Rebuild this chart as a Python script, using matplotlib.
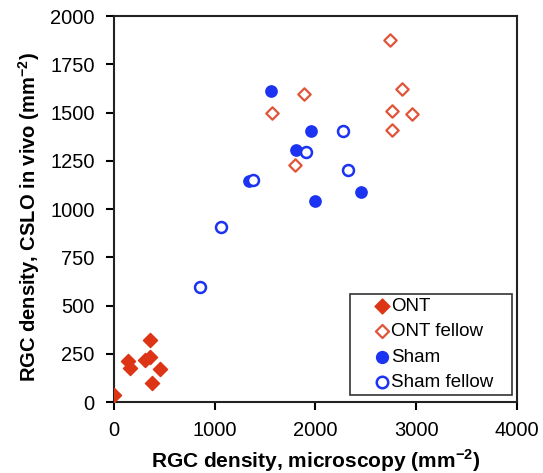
import matplotlib.pyplot as plt

plt.rcParams['font.family'] = ['Liberation Sans', 'DejaVu Sans']
plt.rcParams['mathtext.fontset'] = 'custom'
plt.rcParams['mathtext.rm'] = 'Liberation Sans'
plt.rcParams['mathtext.bf'] = 'Liberation Sans:bold'

# ONT
ont_x = [0, 142, 159, 307, 357, 357, 456, 374]
ont_y = [38, 214, 179, 219, 236, 322, 171, 98]
# ONT fellow
ontf_x = [2744, 2863, 2757, 2959, 2757, 1888, 1570, 1795]
ontf_y = [1874, 1622, 1509, 1493, 1412, 1596, 1500, 1227]
# Sham
sham_x = [1557, 1960, 1805, 1339, 1997, 2450]
sham_y = [1614, 1402, 1307, 1146, 1040, 1086]
# Sham fellow
shamf_x = [2278, 1908, 2318, 1375, 1061, 856]
shamf_y = [1403, 1298, 1202, 1152, 909, 595]

red = '#dc3414'
red_open = '#e0553a'
blue = '#1c34f2'

fig = plt.figure(figsize=(5.43, 4.73), dpi=100)
ax = fig.add_axes([0.21, 0.15, 0.742, 0.816])

ax.scatter(ont_x, ont_y, s=52, marker='D', color=red, label='ONT', zorder=3)
ax.scatter(ontf_x, ontf_y, s=40, marker='D', facecolor='white', edgecolor=red_open,
           linewidth=1.6, label='ONT fellow', zorder=3)
ax.scatter(sham_x, sham_y, s=66, marker='o', color=blue, label='Sham', zorder=3)
ax.scatter(shamf_x, shamf_y, s=62, marker='o', facecolor='white', edgecolor=blue,
           linewidth=1.8, label='Sham fellow', zorder=3)

ax.set_xlim(0, 4000)
ax.set_ylim(0, 2000)
ax.set_xticks([0, 1000, 2000, 3000, 4000])
ax.set_yticks(range(0, 2001, 250))
ax.tick_params(direction='out', length=6, width=1.5, labelsize=14.5, pad=8, colors='black')
for s in ax.spines.values():
    s.set_linewidth(1.5)
    s.set_color('#222222')

ax.set_xlabel('RGC density, microscopy (mm$^{\\mathbf{-2}}$)', fontsize=15,
              fontweight='bold', labelpad=5)
ax.set_ylabel('RGC density, CSLO in vivo (mm$^{\\mathbf{-2}}$)', fontsize=14.5,
              fontweight='bold')
ax.yaxis.set_label_coords(-0.178, 0.48)

leg = ax.legend(loc='lower left', mode='expand', fontsize=13.5, frameon=True,
                fancybox=False, edgecolor='black', handletextpad=-1.0,
                handlelength=3.0, borderpad=0.2, labelspacing=0.45, scatterpoints=1,
                bbox_to_anchor=(0.586, 0.018, 0.402, 0.264), markerscale=1.05,
                borderaxespad=0)
leg.get_frame().set_linewidth(1.2)

fig.savefig('out.png', dpi=100)
